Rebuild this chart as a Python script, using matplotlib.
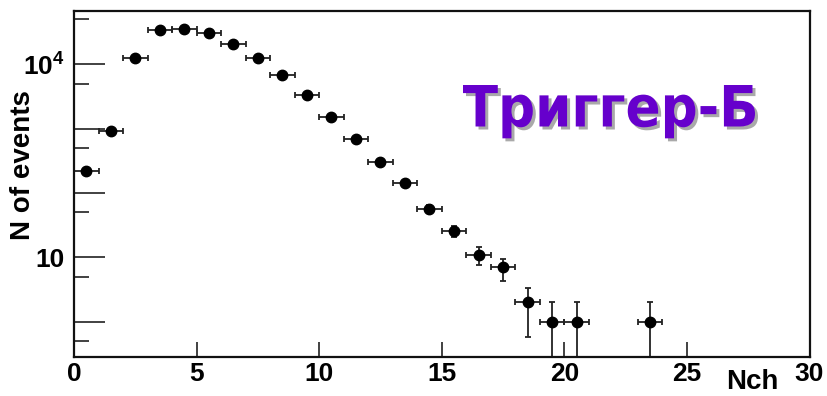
import numpy as np
import matplotlib
matplotlib.use("Agg")
import matplotlib.pyplot as plt
from matplotlib.textpath import TextPath
from matplotlib.font_manager import FontProperties
from matplotlib.patches import PathPatch
from matplotlib.transforms import Affine2D
from matplotlib.ticker import FixedLocator

plt.rcParams["mathtext.fontset"] = "custom"
plt.rcParams["mathtext.bf"] = "Liberation Sans:bold"
plt.rcParams["mathtext.rm"] = "Liberation Sans:bold"

# multiplicity bins (centres) and number of events
nch = [0.5, 1.5, 2.5, 3.5, 4.5, 5.5, 6.5, 7.5, 8.5, 9.5, 10.5,
       11.5, 12.5, 13.5, 14.5, 15.5, 16.5, 17.5, 18.5, 19.5, 20.5, 23.5]
counts = [223, 931, 12650, 33700, 35300, 30300, 20700, 12600, 6820, 3370, 1500,
          692, 304, 142, 57, 26, 11, 7, 2, 1, 1, 1]
title = "Триггер-Б"
xticks = [0, 5, 10, 15, 20, 25, 30]
ylabels = {10: "10", 10000: r"$\mathbf{10^{4}}$"}

W, H = 827, 396
fig = plt.figure(figsize=(W / 100, H / 100), dpi=100)
ax = fig.add_axes([74 / W, 1 - 356.5 / H, (809.5 - 74) / W, (356.5 - 11) / H])

y = np.array(counts, dtype=float)
err = np.sqrt(y)
err_lo = np.where(err >= y, y * 0.999, err)
ax.errorbar(nch, y, xerr=0.5, yerr=[err_lo, err], fmt="o", color="black",
            ecolor="#222222", elinewidth=1.3, capsize=2.5, capthick=1.3,
            markersize=7.5, clip_on=True)

ax.set_yscale("log")
ax.set_xlim(0, 30)
ax.set_ylim(0.29, 67300)

narrow = ["Liberation Sans Narrow", "Liberation Sans", "DejaVu Sans"]

ax.set_xticks(xticks)
ax.set_xticklabels([str(t) for t in xticks], fontsize=19, fontweight="bold", family=narrow)
ax.tick_params(axis="x", which="both", direction="in", length=11, width=1.3,
               top=False, pad=4, colors="#333333", labelcolor="black")

majors = [1, 10, 100, 1000, 10000]
ax.yaxis.set_major_locator(FixedLocator(majors))
ax.yaxis.set_minor_locator(FixedLocator([0.5, 5, 50, 500, 5000, 50000]))
ax.set_yticklabels([ylabels.get(m, "") for m in majors])
for lab in ax.get_yticklabels():
    lab.set_fontsize(19)
    lab.set_fontweight("bold")
    lab.set_family(["Liberation Sans", "DejaVu Sans"])
ax.yaxis.set_minor_formatter(plt.NullFormatter())
ax.tick_params(axis="y", which="major", direction="in", length=22, width=1.3,
               right=False, pad=7, colors="#333333", labelcolor="black")
ax.tick_params(axis="y", which="minor", direction="in", length=11, width=1.3,
               right=False, colors="#333333")

for s in ax.spines.values():
    s.set_linewidth(1.6)
    s.set_color("#111111")

fig.text(23 / W, 1 - 165 / H, "N of events", rotation=90, ha="center", va="center",
         fontsize=20, fontweight="bold", family=["Liberation Sans", "DejaVu Sans"])
fig.text(752 / W, 1 - 389 / H, "Nch", ha="center", va="baseline",
         fontsize=20, fontweight="bold", family=narrow)

# big purple title with grey drop shadow, fitted to its box in pixels
fp = FontProperties(family="DejaVu Sans", weight="bold")
tp = TextPath((0, 0), title, size=100, prop=fp)
cap = TextPath((0, 0), title[0], size=100, prop=fp).get_extents().ymax
ext = tp.get_extents()
x0, x1, base, top = 463, 755, 126.5, 85
sx = (x1 - x0) / (ext.xmax - ext.xmin)
sy = (base - top) / cap
for dx, dy, col, z in [(3, -3, "#a9a9a9", 5), (0, 0, "#6600cc", 6)]:
    tr = (Affine2D().translate(-ext.xmin, 0).scale(sx, sy)
          .translate(x0 + dx, H - base + dy).scale(1 / 100) + fig.dpi_scale_trans)
    fig.add_artist(PathPatch(tp, transform=tr, facecolor=col, edgecolor="none", zorder=z))

fig.savefig("out.png", dpi=100)
plt.close(fig)
